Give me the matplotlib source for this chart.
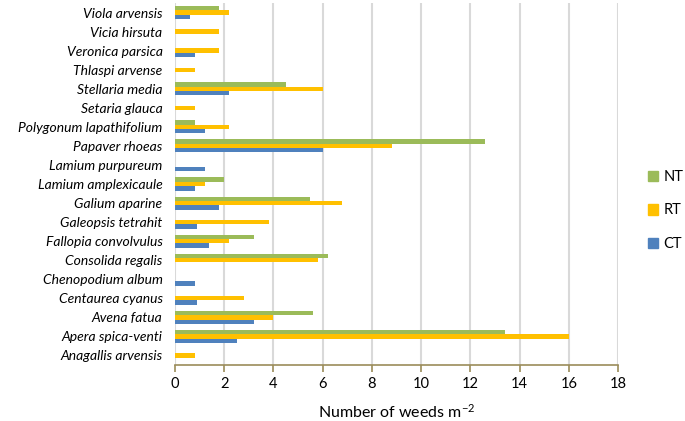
import matplotlib
matplotlib.use("Agg")
import matplotlib.pyplot as plt
import numpy as np
from matplotlib.patches import Patch

species = ["Anagallis arvensis", "Apera spica-venti", "Avena fatua", "Centaurea cyanus",
           "Chenopodium album", "Consolida regalis", "Fallopia convolvulus",
           "Galeopsis tetrahit", "Galium aparine", "Lamium amplexicaule",
           "Lamium purpureum", "Papaver rhoeas", "Polygonum lapathifolium",
           "Setaria glauca", "Stellaria media", "Thlaspi arvense", "Veronica parsica",
           "Vicia hirsuta", "Viola arvensis"]
NT = [0, 13.4, 5.6, 0, 0, 6.2, 3.2, 0, 5.5, 2.0, 0, 12.6, 0.8, 0, 4.5, 0, 0, 0, 1.8]
RT = [0.8, 16.0, 4.0, 2.8, 0, 5.8, 2.2, 3.8, 6.8, 1.2, 0, 8.8, 2.2, 0.8, 6.0, 0.8, 1.8, 1.8, 2.2]
CT = [0, 2.5, 3.2, 0.9, 0.8, 0, 1.4, 0.9, 1.8, 0.8, 1.2, 6.0, 1.2, 0, 2.2, 0, 0.8, 0, 0.6]
xticks = [0, 2, 4, 6, 8, 10, 12, 14, 16, 18]

plt.rcParams['font.family'] = ['Lato', 'DejaVu Sans']
plt.rcParams['mathtext.default'] = 'regular'

fig = plt.figure(figsize=(6.85, 4.21), dpi=100)
ax = fig.add_axes([175/685, 1-365/421, (618-175)/685, (365-3)/421])

y = np.arange(len(species))
h = 0.228
c_nt, c_rt, c_ct = "#9BBB59", "#FFC000", "#4F81BD"
ax.barh(y + h, NT, height=h, color=c_nt, zorder=3)
ax.barh(y, RT, height=h, color=c_rt, zorder=3)
ax.barh(y - h, CT, height=h, color=c_ct, zorder=3)

ax.set_xlim(0, 18)
ax.set_ylim(-0.5, len(species) - 0.5)
ax.set_xticks(xticks)
ax.set_xticklabels([str(t) for t in xticks], fontsize=10.5)
ax.set_yticks(y)
ax.set_yticklabels(species, fontsize=10, style='italic')
ax.tick_params(axis='y', length=0, pad=9)
ax.tick_params(axis='x', length=5, color="#9B8C5A", width=1.2, pad=4)
ax.grid(axis='x', color="#D9D9D9", linewidth=1.5, zorder=0)
for s in ['top', 'right', 'left']:
    ax.spines[s].set_visible(False)
ax.spines['bottom'].set_color("#9B8C5A")
ax.spines['bottom'].set_linewidth(1.2)
ax.set_xlabel("Number of weeds m$^{-2}$", fontsize=11.5, labelpad=8)

handles = [Patch(color=c_nt, label="NT"), Patch(color=c_rt, label="RT"), Patch(color=c_ct, label="CT")]
fig.legend(handles=handles, loc='center left', bbox_to_anchor=(648/685, 0.5), frameon=False,
           fontsize=10.5, handlelength=0.7, handleheight=0.7, handletextpad=0.35,
           labelspacing=1.35, borderpad=0, borderaxespad=0)

fig.savefig("out.png", dpi=100)
